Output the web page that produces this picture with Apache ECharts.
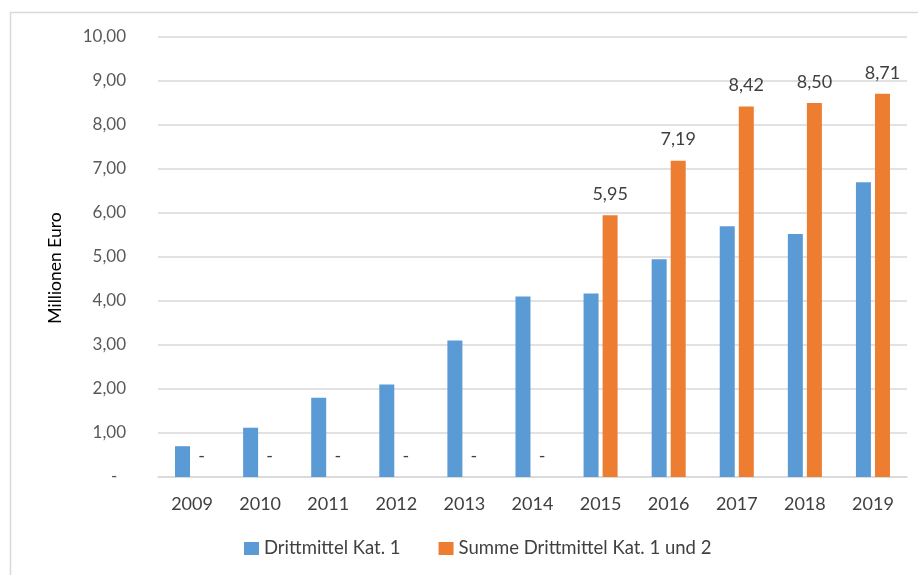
<!DOCTYPE html>
<html>
<head>
<meta charset="utf-8">
<script src="https://cdn.jsdelivr.net/npm/echarts@6/dist/echarts.min.js"></script>
<style>
  html, body { margin: 0; padding: 0; background: #fff; }
  #chart { width: 918px; height: 575px; }
</style>
</head>
<body>
<div id="chart"></div>
<script>
// Jahre und Werte (Millionen Euro)
const years = ['2009', '2010', '2011', '2012', '2013', '2014', '2015', '2016', '2017', '2018', '2019'];
const kat1 = [0.70, 1.12, 1.80, 2.10, 3.10, 4.10, 4.17, 4.95, 5.70, 5.52, 6.70];
const summeKat12 = [0, 0, 0, 0, 0, 0, 5.95, 7.19, 8.42, 8.50, 8.71];
const seriesNames = ['Drittmittel Kat. 1', 'Summe Drittmittel Kat. 1 und 2'];
const axisTitle = 'Millionen Euro';

const FONT = 'Lato, "Open Sans", sans-serif';

// Zahlen im deutschen Format, Null als Strich
function fmt(v) {
  if (v === 0) return '-';
  return v.toFixed(2).replace('.', ',');
}

const chart = echarts.init(document.getElementById('chart'));
chart.setOption({
  animation: false,
  backgroundColor: '#ffffff',
  textStyle: { fontFamily: FONT },
  graphic: [
    {
      type: 'rect',
      shape: { x: 10.5, y: 12.5, width: 1000, height: 700 },
      style: { fill: 'none', stroke: '#d9d9d9', lineWidth: 1.5 },
      silent: true
    },
    {
      // Achsentitel der Werteachse
      type: 'text',
      x: 55,
      y: 268,
      rotation: Math.PI / 2,
      style: {
        text: axisTitle,
        fontFamily: FONT,
        fontSize: 17.5,
        fill: '#000000',
        align: 'center',
        verticalAlign: 'middle'
      },
      silent: true
    }
  ],
  grid: { left: 158, right: 11, top: 37, bottom: 98, containLabel: false },
  legend: {
    bottom: 12,
    left: 239,
    itemWidth: 15,
    itemHeight: 13,
    itemGap: 38,
    icon: 'rect',
    textStyle: { fontFamily: FONT, fontSize: 18.5, color: '#404040' },
    data: seriesNames
  },
  xAxis: {
    type: 'category',
    data: years,
    axisLine: { lineStyle: { color: '#d9d9d9', width: 1.5 } },
    axisTick: { show: false },
    axisLabel: { fontFamily: FONT, fontSize: 18, color: '#404040', margin: 18 }
  },
  yAxis: {
    type: 'value',
    min: 0,
    max: 10,
    interval: 1,
    axisLine: { show: false },
    axisTick: { show: false },
    splitLine: { lineStyle: { color: '#d9d9d9', width: 1.5 } },
    axisLabel: {
      fontFamily: FONT, fontSize: 17, color: '#595959', margin: 32,
      formatter: v => v === 0 ? '-  ' : fmt(v)
    }
  },
  series: [
    {
      name: seriesNames[0],
      type: 'bar',
      data: kat1,
      barWidth: 15,
      barGap: '27%',
      itemStyle: { color: '#5b9bd5' }
    },
    {
      name: seriesNames[1],
      type: 'bar',
      data: summeKat12,
      barWidth: 15,
      barGap: '27%',
      itemStyle: { color: '#ed7d31' },
      label: {
        show: true,
        position: 'top',
        distance: 12,
        fontFamily: FONT,
        fontSize: 18,
        color: '#404040',
        formatter: p => fmt(p.value)
      }
    }
  ]
});
</script>
</body>
</html>
